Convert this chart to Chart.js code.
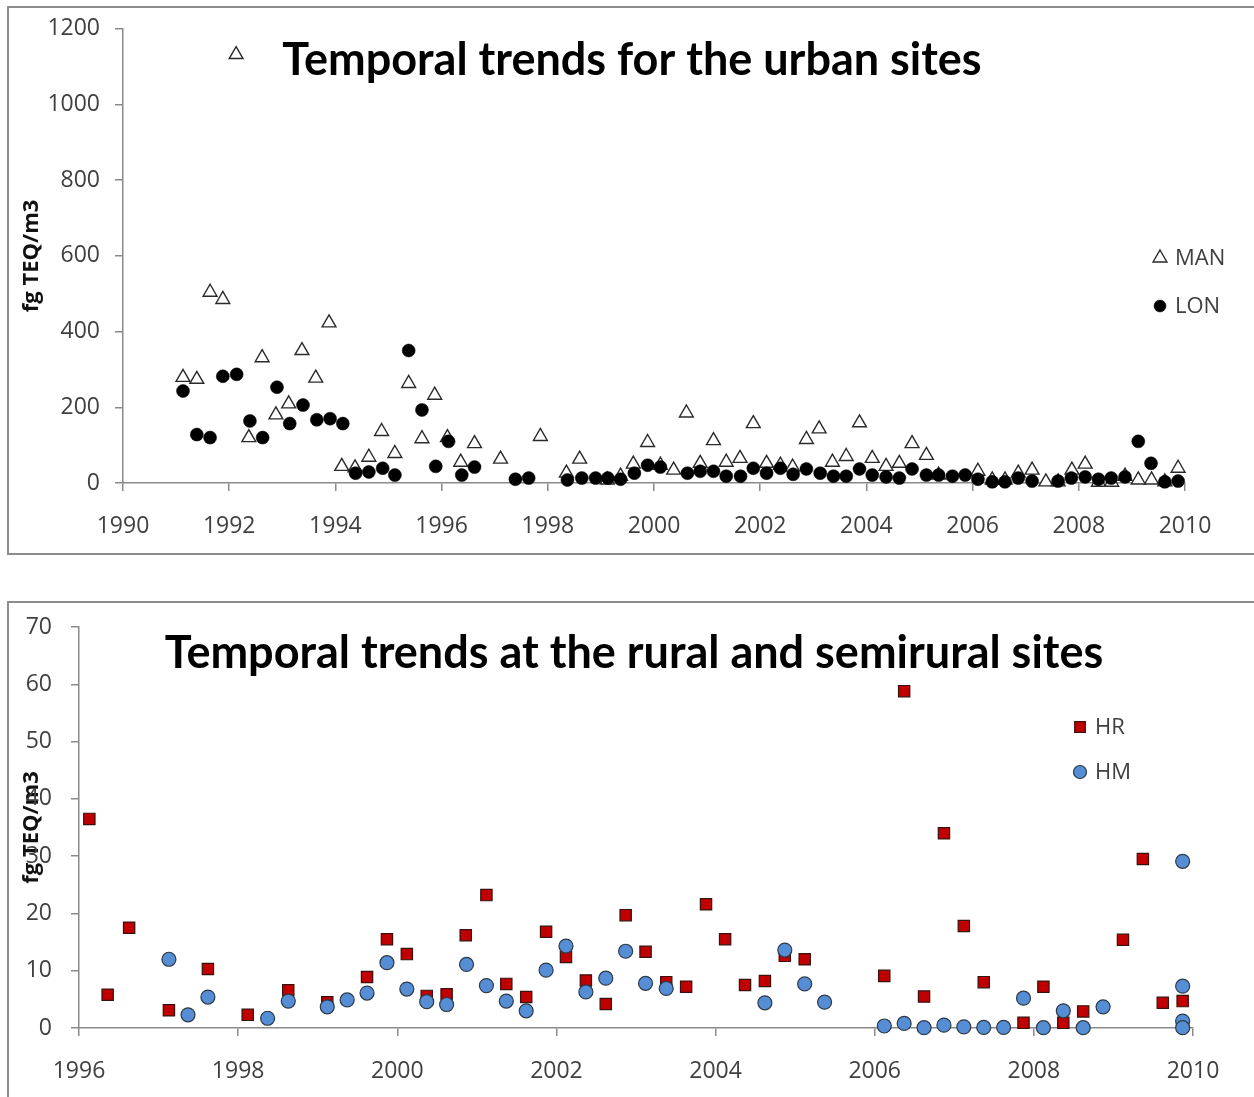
<!DOCTYPE html>
<html>
<head>
<meta charset="utf-8">
<script src="https://cdn.jsdelivr.net/npm/chart.js@4.4.0/dist/chart.umd.min.js"></script>
<style>
  html, body { margin: 0; padding: 0; background: #fff; }
  body { width: 1254px; height: 1097px; position: relative; overflow: hidden; }
  .frame { position: absolute; border: 2px solid #8c8c8c; box-sizing: border-box; }
  canvas { position: absolute; left: 0; }
</style>
</head>
<body>
<div class="frame" style="left:7px;top:6px;width:1270px;height:549px;"></div>
<div class="frame" style="left:7px;top:601px;width:1270px;height:520px;"></div>
<canvas id="urban" width="1254" height="560" style="top:0"></canvas>
<canvas id="rural" width="1254" height="507" style="top:590px"></canvas>
<script>
// urban sites (fg TEQ/m3)
const manYears = [1991.13, 1991.39, 1991.64, 1991.88, 1992.13, 1992.37, 1992.62, 1992.88, 1993.12, 1993.37,
  1993.63, 1993.88, 1994.12, 1994.37, 1994.63, 1994.87, 1995.12, 1995.38, 1995.63, 1995.87,
  1996.11, 1996.36, 1996.62, 1997.11, 1997.86, 1998.35, 1998.6, 1999.12, 1999.37, 1999.61,
  1999.88, 2000.12, 2000.37, 2000.61, 2000.87, 2001.12, 2001.36, 2001.62, 2001.87, 2002.12,
  2002.38, 2002.61, 2002.87, 2003.11, 2003.36, 2003.62, 2003.87, 2004.11, 2004.37, 2004.62,
  2004.86, 2005.13, 2005.36, 2006.1, 2006.37, 2006.61, 2006.86, 2007.12, 2007.38, 2007.61,
  2007.87, 2008.12, 2008.37, 2008.62, 2008.87, 2009.12, 2009.37, 2009.62, 2009.87];
const manValues = [279, 274, 504, 485, 1132, 120, 331, 180, 209, 350,
  277, 423, 44, 40, 68, 136, 78, 263, 117, 232,
  120, 55, 104, 63, 123, 26, 63, 8, 18, 50,
  107, 47, 34, 185, 52, 112, 55, 65, 157, 52,
  47, 42, 115, 143, 55, 70, 159, 65, 44, 52,
  104, 73, 21, 31, 8, 8, 26, 34, 3, 3,
  34, 50, 2, 2, 18, 8, 8, 3, 39];

const lonYears = [1991.13, 1991.39, 1991.64, 1991.88, 1992.14, 1992.39, 1992.63, 1992.9, 1993.14, 1993.39,
  1993.65, 1993.9, 1994.14, 1994.38, 1994.63, 1994.89, 1995.12, 1995.38, 1995.63, 1995.89,
  1996.13, 1996.38, 1996.62, 1997.39, 1997.64, 1998.37, 1998.64, 1998.9, 1999.13, 1999.37,
  1999.63, 1999.88, 2000.12, 2000.63, 2000.87, 2001.12, 2001.36, 2001.63, 2001.87, 2002.12,
  2002.38, 2002.62, 2002.87, 2003.13, 2003.38, 2003.62, 2003.87, 2004.11, 2004.37, 2004.62,
  2004.86, 2005.13, 2005.36, 2005.62, 2005.86, 2006.1, 2006.37, 2006.61, 2006.86, 2007.12,
  2007.61, 2007.86, 2008.12, 2008.37, 2008.61, 2008.87, 2009.12, 2009.36, 2009.62, 2009.87];
const lonValues = [243, 128, 120, 282, 287, 164, 120, 253, 157, 206,
  167, 170, 157, 26, 29, 39, 21, 350, 193, 44,
  110, 21, 42, 10, 13, 8, 13, 13, 13, 10,
  26, 47, 42, 26, 31, 31, 18, 18, 39, 26,
  39, 23, 37, 26, 18, 18, 37, 21, 16, 13,
  37, 21, 21, 18, 21, 10, 3, 3, 13, 5,
  5, 13, 16, 10, 13, 16, 110, 52, 3, 5];

// rural and semirural sites (fg TEQ/m3)
const hrYears = [1996.13, 1996.36, 1996.63, 1997.13, 1997.62, 1998.12, 1998.63, 1999.12, 1999.62, 1999.87,
  2000.12, 2000.37, 2000.62, 2000.86, 2001.12, 2001.37, 2001.62, 2001.87, 2002.12, 2002.37,
  2002.62, 2002.87, 2003.12, 2003.38, 2003.63, 2003.88, 2004.12, 2004.37, 2004.62, 2004.87,
  2005.12, 2006.12, 2006.37, 2006.62, 2006.87, 2007.12, 2007.37, 2007.87, 2008.12, 2008.37,
  2008.62, 2009.12, 2009.37, 2009.62, 2009.87];
const hrValues = [36.5, 5.8, 17.5, 3.1, 10.3, 2.3, 6.6, 4.5, 8.9, 15.5,
  12.9, 5.6, 5.9, 16.2, 23.2, 7.7, 5.4, 16.8, 12.4, 8.3,
  4.2, 19.7, 13.3, 8.0, 7.2, 21.6, 15.5, 7.5, 8.2, 12.6,
  12.0, 9.1, 58.8, 5.5, 34.0, 17.8, 8.0, 0.9, 7.2, 0.9,
  2.9, 15.4, 29.5, 4.4, 4.7];

const hmYears = [1997.13, 1997.37, 1997.62, 1998.37, 1998.63, 1999.12, 1999.37, 1999.62, 1999.87, 2000.12,
  2000.37, 2000.62, 2000.87, 2001.12, 2001.37, 2001.62, 2001.87, 2002.12, 2002.37, 2002.62,
  2002.87, 2003.12, 2003.38, 2004.62, 2004.87, 2005.12, 2005.37, 2006.12, 2006.37, 2006.62,
  2006.87, 2007.12, 2007.37, 2007.62, 2007.87, 2008.12, 2008.37, 2008.62, 2008.87, 2009.87,
  2009.87, 2009.87, 2009.87];
const hmValues = [12.0, 2.3, 5.4, 1.7, 4.7, 3.7, 4.9, 6.1, 11.4, 6.8,
  4.6, 4.1, 11.1, 7.4, 4.7, 3.0, 10.1, 14.3, 6.3, 8.7,
  13.4, 7.8, 6.9, 4.4, 13.6, 7.7, 4.5, 0.35, 0.8, 0.05,
  0.5, 0.2, 0.1, 0.1, 5.2, 0.05, 3.0, 0.05, 3.7, 29.1,
  7.3, 1.2, 0.05];

const axisGray = '#8a8a8a';
const labelColor = '#404040';

function toPoints(xs, ys) {
  return xs.map((x, i) => ({ x: x, y: ys[i] }));
}

// title + legend drawn inside the plot area, like the original
const insideText = {
  id: 'insideText',
  afterDraw(chart, args, opts) {
    const ctx = chart.ctx;
    ctx.save();
    ctx.fillStyle = '#000';
    ctx.font = opts.titleFont;
    ctx.textAlign = 'center';
    ctx.textBaseline = 'middle';
    ctx.fillText(opts.title, opts.titleX, opts.titleY);

    ctx.font = '22px "Open Sans"';
    ctx.textAlign = 'left';
    chart.data.datasets.forEach((ds, i) => {
      const y = opts.legendY + i * opts.legendGap;
      ctx.fillStyle = ds.backgroundColor;
      ctx.strokeStyle = ds.borderColor;
      ctx.lineWidth = ds.borderWidth;
      Chart.helpers.drawPoint(ctx, {
        pointStyle: ds.pointStyle, rotation: 0,
        radius: ds.legendRadius, borderWidth: ds.borderWidth
      }, opts.legendX, y);
      ctx.fillStyle = labelColor;
      ctx.fillText(ds.label, opts.legendX + 15, y + 1);
    });
    ctx.restore();
  }
};

function scatterOptions(c) {
  return {
    responsive: false,
    animation: false,
    layout: { padding: { top: c.top, right: c.right, left: 0, bottom: 0 } },
    plugins: {
      legend: { display: false },
      tooltip: { enabled: false },
      insideText: c.text
    },
    scales: {
      x: {
        type: 'linear',
        min: c.xMin,
        max: c.xMax,
        afterFit: (s) => { s.height = c.xHeight; },
        ticks: {
          stepSize: 2,
          color: labelColor,
          font: { family: 'Open Sans', size: 23 },
          padding: c.xPad,
          maxRotation: 0,
          autoSkip: false,
          callback: (v) => String(v)
        },
        grid: { drawOnChartArea: false, drawTicks: true, tickLength: 8, color: axisGray, lineWidth: 1.5 },
        border: { color: axisGray, width: 1.5 }
      },
      y: {
        min: 0,
        max: c.yMax,
        afterFit: (s) => { s.width = c.yWidth; },
        ticks: {
          stepSize: c.yStep,
          color: labelColor,
          font: { family: 'Open Sans', size: 23 },
          padding: c.yPad,
          callback: (v) => String(v)
        },
        grid: { drawOnChartArea: false, drawTicks: true, tickLength: 8, color: axisGray, lineWidth: 1.5 },
        border: { color: axisGray, width: 1.5 },
        title: {
          display: true,
          text: 'fg TEQ/m3',
          color: '#111',
          font: { family: 'Open Sans', size: 22, weight: 'bold' },
          padding: { top: c.titlePad, bottom: 0 }
        }
      }
    }
  };
}

new Chart(document.getElementById('urban'), {
  type: 'scatter',
  data: {
    datasets: [
      {
        label: 'MAN',
        data: toPoints(manYears, manValues),
        pointStyle: 'triangle',
        pointRadius: 8,
        legendRadius: 8,
        backgroundColor: '#ffffff',
        borderColor: '#2a2a2a',
        borderWidth: 1.4,
        clip: false,
        order: 1
      },
      {
        label: 'LON',
        data: toPoints(lonYears, lonValues),
        pointStyle: 'circle',
        pointRadius: 6.5,
        legendRadius: 6,
        backgroundColor: '#000000',
        borderColor: '#000000',
        borderWidth: 0.5,
        clip: false,
        order: 0
      }
    ]
  },
  options: scatterOptions({
    top: 23, right: 69, xHeight: 77, yWidth: 123,
    xMin: 1990, xMax: 2010, yMax: 1200, yStep: 200,
    xPad: 22, yPad: 15, titlePad: 19,
    text: {
      title: 'Temporal trends for the urban sites',
      titleFont: 'bold 45px Lato',
      titleX: 632, titleY: 60,
      legendX: 1160, legendY: 258, legendGap: 48
    }
  }),
  plugins: [insideText]
});

new Chart(document.getElementById('rural'), {
  type: 'scatter',
  data: {
    datasets: [
      {
        label: 'HR',
        data: toPoints(hrYears, hrValues),
        pointStyle: 'rect',
        pointRadius: 8,
        legendRadius: 7.5,
        backgroundColor: '#c00000',
        borderColor: '#3a1010',
        borderWidth: 1.2,
        clip: false,
        order: 1
      },
      {
        label: 'HM',
        data: toPoints(hmYears, hmValues),
        pointStyle: 'circle',
        pointRadius: 7,
        legendRadius: 6.5,
        backgroundColor: '#558ed5',
        borderColor: '#2f3a48',
        borderWidth: 1.2,
        clip: false,
        order: 0
      }
    ]
  },
  options: scatterOptions({
    top: 37, right: 61, xHeight: 69, yWidth: 79,
    xMin: 1996, xMax: 2010, yMax: 70, yStep: 10,
    xPad: 22, yPad: 19, titlePad: 19,
    text: {
      title: 'Temporal trends at the rural and semirural sites',
      titleFont: 'bold 45px Lato',
      titleX: 634, titleY: 653 - 590,
      legendX: 1080, legendY: 137, legendGap: 45
    }
  }),
  plugins: [insideText]
});
</script>
</body>
</html>
